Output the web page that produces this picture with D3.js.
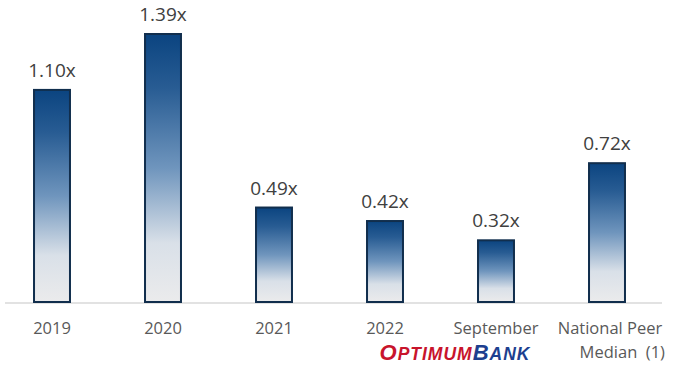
<!DOCTYPE html>
<html>
<head>
<meta charset="utf-8">
<script src="https://cdn.jsdelivr.net/npm/d3@7/dist/d3.min.js"></script>
<style>
  html, body { margin: 0; padding: 0; background: #fff; }
  svg { display: block; }
</style>
</head>
<body>
<svg id="chart" width="683" height="365"></svg>
<script>
// Multiples by period, with the national peer median for comparison
const categories = ["2019", "2020", "2021", "2022", "September", "National Peer Median (1)"];
const values = [1.10, 1.39, 0.49, 0.42, 0.32, 0.72];
const valueLabels = ["1.10x", "1.39x", "0.49x", "0.42x", "0.32x", "0.72x"];
const tickLines = [["2019"], ["2020"], ["2021"], ["2022"], ["September"], ["National Peer", "Median  (1)"]];

const svg = d3.select("#chart");
const baseY = 302;

const x = d3.scaleBand()
  .domain(categories)
  .range([-3.5, 662.5])
  .paddingInner(0.676)
  .paddingOuter(0.338);

const y = d3.scaleLinear()
  .domain([0, 1.39])
  .range([baseY, 34]);

// Vertical gradient: deep blue at top fading to light grey
const defs = svg.append("defs");
const grad = defs.append("linearGradient")
  .attr("id", "barGrad")
  .attr("x1", 0).attr("y1", 0).attr("x2", 0).attr("y2", 1);
[
  [0, "#0b4480"],
  [0.2, "#285c93"],
  [0.5, "#6f95bd"],
  [0.78, "#d9e0e8"],
  [1, "#ebebec"]
].forEach(([o, c]) => grad.append("stop").attr("offset", o).attr("stop-color", c));

// Baseline
svg.append("line")
  .attr("x1", 5).attr("x2", 662)
  .attr("y1", baseY + 1).attr("y2", baseY + 1)
  .attr("stroke", "#d9d9d9").attr("stroke-width", 1.5);

// Bars
svg.selectAll("rect.bar")
  .data(values)
  .enter().append("rect")
  .attr("class", "bar")
  .attr("x", (d, i) => x(categories[i]))
  .attr("y", d => y(d))
  .attr("width", x.bandwidth())
  .attr("height", d => baseY - y(d))
  .attr("fill", "url(#barGrad)")
  .attr("stroke", "#112e4d")
  .attr("stroke-width", 2);

// Value labels
svg.selectAll("text.val")
  .data(values)
  .enter().append("text")
  .attr("class", "val")
  .attr("x", (d, i) => x(categories[i]) + x.bandwidth() / 2)
  .attr("y", d => y(d) - 13)
  .attr("text-anchor", "middle")
  .attr("font-family", "'Open Sans', sans-serif")
  .attr("font-size", 19)
  .attr("fill", "#404040")
  .text((d, i) => valueLabels[i]);

// Category labels
tickLines.forEach((lines, i) => {
  const cx = x(categories[i]) + x.bandwidth() / 2;
  lines.forEach((t, j) => {
    const second = j > 0;
    svg.append("text")
      .attr("x", second ? 665 : (lines.length > 1 ? cx + 3 : cx))
      .attr("y", 334 + j * 24)
      .attr("text-anchor", second ? "end" : "middle")
      .attr("font-family", "'Open Sans', sans-serif")
      .attr("font-size", 16.5)
      .attr("fill", "#595959")
      .style("white-space", "pre")
      .text(t);
  });
});

// Bank wordmark under the September column
const logo = svg.append("text")
  .attr("x", x("September") + x.bandwidth() / 2 - 41)
  .attr("y", 360)
  .attr("text-anchor", "middle")
  .attr("font-family", "'Liberation Sans', Arial, sans-serif")
  .attr("font-weight", "bold")
  .attr("font-style", "italic")
  .attr("letter-spacing", 1);
logo.append("tspan").attr("fill", "#c8142c").attr("font-size", 22).text("O");
logo.append("tspan").attr("fill", "#c8142c").attr("font-size", 17.5).text("PTIMUM");
logo.append("tspan").attr("fill", "#1d3f8f").attr("font-size", 22).text("B");
logo.append("tspan").attr("fill", "#1d3f8f").attr("font-size", 17.5).text("ANK");
</script>
</body>
</html>
